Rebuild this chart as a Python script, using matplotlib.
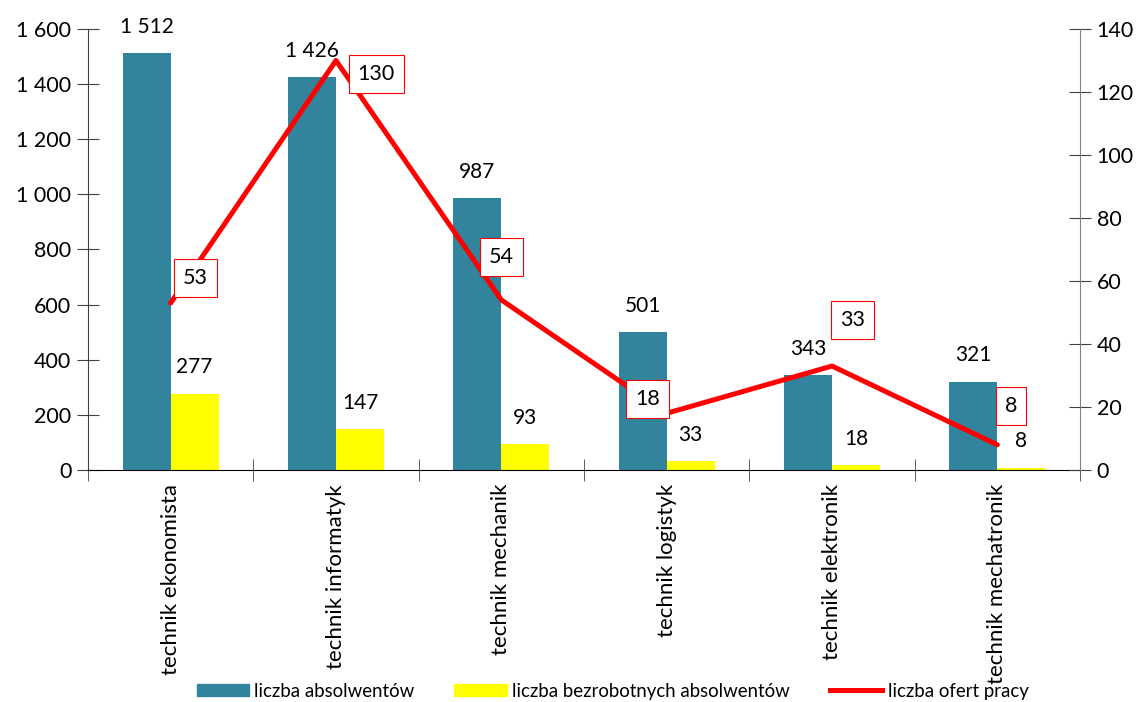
import matplotlib
matplotlib.use("Agg")
import matplotlib.pyplot as plt
import numpy as np
from matplotlib.ticker import FuncFormatter, FixedLocator
from matplotlib.lines import Line2D
from matplotlib.patches import Patch

plt.rcParams['font.family'] = ['Lato', 'DejaVu Sans']

categories = ["technik ekonomista", "technik informatyk", "technik mechanik",
              "technik logistyk", "technik elektronik", "technik mechatronik"]
absolwenci = [1512, 1426, 987, 501, 343, 321]
bezrobotni = [277, 147, 93, 33, 18, 8]
oferty = [53, 130, 54, 18, 33, 8]

# label box offsets (points) for the line labels
line_label_offsets = [(18, 18), (29, -10), (0, 31), (-14, 10), (15, 33), (10, 28)]

teal = "#31849B"
yellow = "#FFFF00"
red = "#FF0000"

def fmt(v, pos=None):
    return f"{int(v):,}".replace(",", " ")

fig = plt.figure(figsize=(11.47, 7.02), dpi=100)
ax = fig.add_axes([0.0767, 0.3305, 0.8649, 0.6282])
ax2 = ax.twinx()

x = np.arange(len(categories))
w = 0.29
b1 = ax.bar(x - w / 2, absolwenci, width=w, color=teal, zorder=2)
b2 = ax.bar(x + w / 2, bezrobotni, width=w, color=yellow, zorder=2)

for rect, v in zip(b1, absolwenci):
    ax.annotate(fmt(v), (rect.get_x() + rect.get_width() / 2, v),
                xytext=(0, 19), textcoords="offset points",
                ha="center", va="center", fontsize=15)
for rect, v in zip(b2, bezrobotni):
    ax.annotate(fmt(v), (rect.get_x() + rect.get_width() / 2, v),
                xytext=(0, 19), textcoords="offset points",
                ha="center", va="center", fontsize=15)

ax.set_xlim(-0.5, len(categories) - 0.5)
ax.set_ylim(0, 1600)
ax.set_yticks(np.arange(0, 1601, 200))
ax.yaxis.set_major_formatter(FuncFormatter(fmt))
ax.set_xticks(x)
ax.set_xticklabels(categories, rotation=90, fontsize=16)
ax.xaxis.set_minor_locator(FixedLocator(np.arange(-0.5, len(categories), 1.0)))
ax.tick_params(axis="x", which="major", length=0, pad=10)
ax.tick_params(axis="x", which="minor", length=16, direction="inout", color="#404040")
ax.tick_params(axis="y", direction="inout", length=16, labelsize=15.5, color="#404040", pad=4)

ax2.plot(x, oferty, color=red, linewidth=3.6, zorder=3, solid_capstyle="round")
ax2.set_ylim(0, 140)
ax2.set_yticks(np.arange(0, 141, 20))
ax2.tick_params(axis="y", direction="inout", length=16, labelsize=15.5, color="#404040", pad=4)
for xi, v, off in zip(x, oferty, line_label_offsets):
    ax2.annotate(str(v), (xi, v), xytext=off, textcoords="offset points",
                 ha="center", va="center", fontsize=15.5,
                 bbox=dict(boxstyle="square,pad=0.42", fc="white", ec=red, lw=0.8))

for a in (ax, ax2):
    a.spines["top"].set_visible(False)
ax.spines["right"].set_visible(False)
ax2.spines["left"].set_visible(False)
ax2.spines["bottom"].set_visible(False)
ax.spines["left"].set_color("#404040")
ax2.spines["right"].set_color("#808080")
ax.spines["bottom"].set_color("black")

handles = [Patch(color=teal, label="liczba absolwentów"),
           Patch(color=yellow, label="liczba bezrobotnych absolwentów"),
           Line2D([0], [0], color=red, linewidth=3.6, label="liczba ofert pracy")]
fig.legend(handles=handles, loc="center", bbox_to_anchor=(0.534, 0.0155), ncol=3,
           frameon=False, fontsize=13.4, handlelength=2.8, handleheight=0.65,
           handletextpad=0.3, columnspacing=2.15)

fig.savefig("out.png", dpi=100)
